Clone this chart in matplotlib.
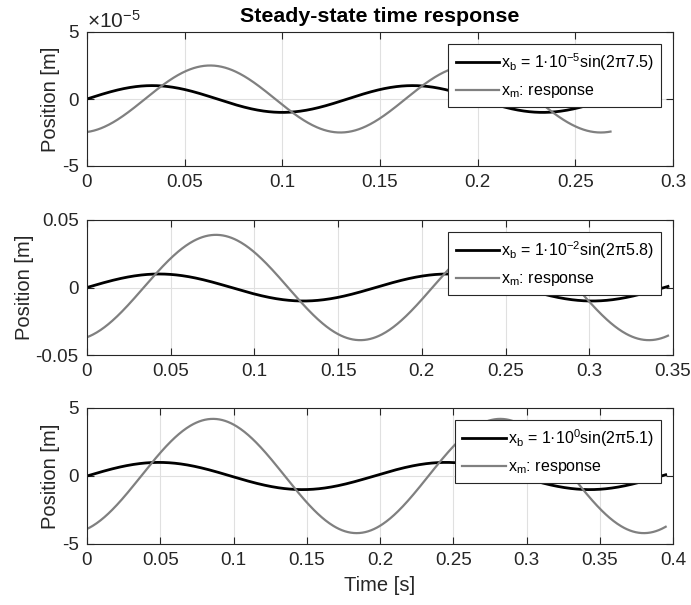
import numpy as np
import matplotlib
matplotlib.use("Agg")
import matplotlib.pyplot as plt

# ---- data ----
freqs = [7.5, 5.8, 5.1]                 # Hz (from legend)
base_amp = [1e-5, 1e-2, 1e0]            # x_b amplitude
resp_amp = [2.5e-5, 0.039, 4.2]         # x_m amplitude
resp_phase = [-1.40, -1.235, -1.185]    # x_m phase [rad]
t_end = [0.268, 0.347, 0.395]           # end of time vector [s]
xlims = [0.3, 0.35, 0.4]
ylims = [5e-5, 0.05, 5]
xticks = [[0, 0.05, 0.1, 0.15, 0.2, 0.25, 0.3],
          [0, 0.05, 0.1, 0.15, 0.2, 0.25, 0.3, 0.35],
          [0, 0.05, 0.1, 0.15, 0.2, 0.25, 0.3, 0.35, 0.4]]
xticklabels = [["0", "0.05", "0.1", "0.15", "0.2", "0.25", "0.3"],
               ["0", "0.05", "0.1", "0.15", "0.2", "0.25", "0.3", "0.35"],
               ["0", "0.05", "0.1", "0.15", "0.2", "0.25", "0.3", "0.35", "0.4"]]
yticks = [[-5e-5, 0, 5e-5], [-0.05, 0, 0.05], [-5, 0, 5]]
yticklabels = [["-5", "0", "5"], ["-0.05", "0", "0.05"], ["-5", "0", "5"]]
exps = ["-5", "-2", "0"]
title = "Steady-state time response"

plt.rcParams['font.family'] = ['Liberation Sans', 'DejaVu Sans']
plt.rcParams['mathtext.fontset'] = 'custom'
plt.rcParams['mathtext.rm'] = 'Liberation Sans'
plt.rcParams['mathtext.it'] = 'Liberation Sans:italic'
plt.rcParams['mathtext.bf'] = 'Liberation Sans:bold'

W, H = 691, 605
fig = plt.figure(figsize=(W / 100, H / 100), dpi=100)
axc = '#262626'
boxes = [(32, 166), (220, 355), (408, 544)]
left, right = 87, 673

for i in range(3):
    top, bot = boxes[i]
    ax = fig.add_axes([left / W, 1 - bot / H, (right - left) / W, (bot - top) / H])
    t = np.linspace(0, t_end[i], 600)
    xb = base_amp[i] * np.sin(2 * np.pi * freqs[i] * t)
    xm = resp_amp[i] * np.sin(2 * np.pi * freqs[i] * t + resp_phase[i])
    ax.plot(t, xb, color='black', lw=2.0,
            label=r'x$_{\rm b}$ = 1·10$^{' + exps[i] + r'}$sin(2π' + str(freqs[i]) + ')')
    ax.plot(t, xm, color='#808080', lw=1.6, label=r'x$_{\rm m}$: response')
    ax.set_xlim(0, xlims[i])
    ax.set_ylim(-ylims[i], ylims[i])
    ax.set_xticks(xticks[i])
    ax.set_xticklabels(xticklabels[i])
    ax.set_yticks(yticks[i])
    ax.set_yticklabels(yticklabels[i])
    ax.grid(True, color='#e0e0e0', lw=0.8)
    ax.set_axisbelow(True)
    ax.tick_params(direction='in', length=5, width=0.8, colors=axc, labelsize=13.5,
                   top=True, right=True, pad=6)
    for s in ax.spines.values():
        s.set_color(axc)
        s.set_linewidth(0.8)
    ax.set_ylabel('Position [m]', fontsize=14.5, color=axc, labelpad=1)
    leg = ax.legend(loc='upper right', fontsize=11.5, fancybox=False, framealpha=1,
                    edgecolor=axc, borderaxespad=0.75, handlelength=2.75,
                    handletextpad=0.1, borderpad=0.45, labelspacing=0.65)
    leg.get_frame().set_linewidth(0.8)
    for txt in leg.get_texts():
        txt.set_color('black')
    if i == 0:
        ax.text(0, 1.005, r'$\times$10$^{-5}$', transform=ax.transAxes, fontsize=15,
                color=axc, ha='left', va='bottom')
        ax.set_title(title, fontsize=15.4, fontweight='bold', pad=7)
    if i == 2:
        ax.set_xlabel('Time [s]', fontsize=14.5, color=axc, labelpad=5)

fig.savefig('out.png', dpi=100)
